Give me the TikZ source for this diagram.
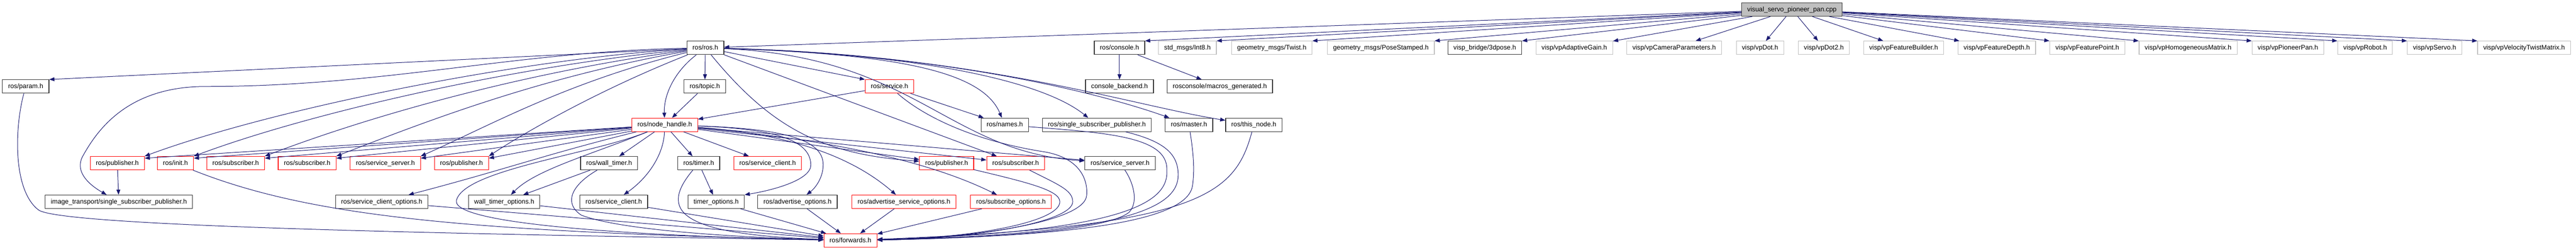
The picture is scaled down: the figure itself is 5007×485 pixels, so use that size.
\documentclass[tikz,border=0pt]{standalone}
\usepackage{fontspec}
\setmainfont{Liberation Sans}
\usepackage{tikz}
\usetikzlibrary{arrows.meta, positioning, calc}
\definecolor{edgecol}{HTML}{191970}
\definecolor{boxgray}{HTML}{BFBFBF}
\newcommand{\hfnt}{\fontsize{12.8pt}{15pt}\selectfont}
\tikzset{block/.style={draw=black!80, line width=1.2pt, fill=white, inner xsep=11pt, inner ysep=0pt, minimum height=26pt, text height=9.7pt, text depth=2.3pt, font=\hfnt},
redblock/.style={block, draw=red},
grayblock/.style={block, draw=boxgray},
rootblock/.style={block, fill=boxgray},
line/.style={-{Triangle[length=10pt,width=7.5pt]}, draw=edgecol, line width=1pt}
}

\begin{document}
\begin{tikzpicture}[x=1pt,y=1pt]
\useasboundingbox (0,0) rectangle (5007,-485);
\node[rootblock] (vspp) at (3483,-18.5) {visual\_servo\_pioneer\_pan.cpp};
% first row
\node[block] (rosh) at (1371,-93) {ros/ros.h};
\node[block] (console) at (2176,-93) {ros/console.h};
\node[grayblock] (int8) at (2308,-93) {std\_msgs/Int8.h};
\node[grayblock] (twist) at (2472,-93) {geometry\_msgs/Twist.h};
\node[grayblock] (pose) at (2684,-93) {geometry\_msgs/PoseStamped.h};
\node[block] (pose3d) at (2886,-93) {visp\_bridge/3dpose.h};
\node[grayblock] (gain) at (3060,-93) {visp/vpAdaptiveGain.h};
\node[grayblock] (campar) at (3254,-93) {visp/vpCameraParameters.h};
\node[grayblock] (dot) at (3421,-93) {visp/vpDot.h};
\node[grayblock] (dottwo) at (3545,-93) {visp/vpDot2.h};
\node[grayblock] (fbuild) at (3700,-93) {visp/vpFeatureBuilder.h};
\node[grayblock] (fdepth) at (3881,-93) {visp/vpFeatureDepth.h};
\node[grayblock] (fpoint) at (4057,-93) {visp/vpFeaturePoint.h};
\node[grayblock] (homog) at (4253,-93) {visp/vpHomogeneousMatrix.h};
\node[grayblock] (pioneer) at (4447,-93) {visp/vpPioneerPan.h};
\node[grayblock] (robot) at (4597,-93) {visp/vpRobot.h};
\node[grayblock] (servo) at (4732,-93) {visp/vpServo.h};
\node[grayblock] (vtwist) at (4906,-93) {visp/vpVelocityTwistMatrix.h};
% second row
\node[block] (param) at (50,-168) {ros/param.h};
\node[block] (topic) at (1370,-168) {ros/topic.h};
\node[redblock] (service) at (1729,-168) {ros/service.h};
\node[block] (backend) at (2176,-168) {console\_backend.h};
\node[block] (macros) at (2371,-168) {rosconsole/macros\_generated.h};
% third row
\node[redblock] (nh) at (1292,-242.5) {ros/node\_handle.h};
\node[block] (names) at (1953,-242.5) {ros/names.h};
\node[block] (rssp) at (2132,-242.5) {ros/single\_subscriber\_publisher.h};
\node[block] (master) at (2311,-242.5) {ros/master.h};
\node[block] (thisnode) at (2437,-242.5) {ros/this\_node.h};
% fourth row
\node[redblock] (puba) at (228,-317) {ros/publisher.h};
\node[redblock] (init) at (341,-317) {ros/init.h};
\node[redblock] (suba) at (458,-317) {ros/subscriber.h};
\node[redblock] (subb) at (597,-317) {ros/subscriber.h};
\node[redblock] (srva) at (749,-317) {ros/service\_server.h};
\node[redblock] (pubb) at (897,-317) {ros/publisher.h};
\node[block] (wtimer) at (1184,-317) {ros/wall\_timer.h};
\node[block] (timer) at (1358,-317) {ros/timer.h};
\node[redblock] (sclient) at (1492,-317) {ros/service\_client.h};
\node[redblock] (pubc) at (1840,-317) {ros/publisher.h};
\node[redblock] (subc) at (1974,-317) {ros/subscriber.h};
\node[block] (srvb) at (2177,-317) {ros/service\_server.h};
% fifth row
\node[block] (itssp) at (231,-392) {image\_transport/single\_subscriber\_publisher.h};
\node[block] (scopts) at (742,-392) {ros/service\_client\_options.h};
\node[block] (wtopts) at (980,-392) {wall\_timer\_options.h};
\node[block] (sclientb) at (1193,-392) {ros/service\_client.h};
\node[block] (topts) at (1392,-392) {timer\_options.h};
\node[block] (advopts) at (1550,-392) {ros/advertise\_options.h};
\node[redblock] (asopts) at (1757,-392) {ros/advertise\_service\_options.h};
\node[redblock] (subopts) at (1965,-392) {ros/subscribe\_options.h};
\node[redblock] (fwd) at (1653,-467) {ros/forwards.h};
% includes of the source file
\draw[line] (vspp) -- (rosh);
\draw[line] (vspp) -- (console.north east);
\draw[line] (vspp) -- (int8.north east);
\draw[line] (vspp) -- (twist.north east);
\draw[line] (vspp) -- (pose.north east);
\draw[line] (vspp) -- (pose3d.north east);
\draw[line] (vspp) -- (gain);
\draw[line] (vspp) -- (campar);
\draw[line] (vspp) -- (dot);
\draw[line] (vspp) -- (dottwo);
\draw[line] (vspp) -- (fbuild);
\draw[line] (vspp) -- (fdepth);
\draw[line] (vspp) -- (fpoint.north west);
\draw[line] (vspp) -- (homog.north west);
\draw[line] (vspp) -- (pioneer.north west);
\draw[line] (vspp) -- (robot.north west);
\draw[line] (vspp) -- (servo.north west);
\draw[line] (vspp) -- (vtwist.north west);
% ros.h
\draw[line] (rosh) -- (param.north east);
\draw[line] (rosh) .. controls (1000,-100) and (750,-168) .. (400,-168) .. controls (250,-168) and (190,-250) .. (160,-305) .. controls (145,-335) and (175,-360) .. (itssp);
\draw[line] (rosh) .. controls (1000,-115) and (520,-215) .. (puba.north east);
\draw[line] (rosh) .. controls (1000,-128) and (600,-220) .. (init.north east);
\draw[line] (rosh) .. controls (1020,-140) and (720,-225) .. (suba.north east);
\draw[line] (rosh) .. controls (1050,-150) and (830,-235) .. (subb.north east);
\draw[line] (rosh) .. controls (1100,-160) and (950,-245) .. (srva.north east);
\draw[line] (rosh) .. controls (1150,-180) and (1000,-270) .. (pubb.north east);
\draw[line] (rosh) -- (topic);
\draw[line] (rosh) .. controls (1310,-140) and (1290,-185) .. (nh);
\draw[line] (topic) -- (nh);
\draw[line] (rosh) -- (service.north west);
\draw[line] (rosh) .. controls (1750,-105) and (1910,-140) .. (names);
\draw[line] (rosh) .. controls (1800,-105) and (2030,-160) .. (rssp);
\draw[line] (rosh) .. controls (1850,-105) and (2150,-185) .. (master);
\draw[line] (rosh) .. controls (1900,-105) and (2200,-205) .. (thisnode);
\draw[line] (rosh) .. controls (1780,-110) and (1840,-295) .. (srvb);
\draw[line] (rosh) -- (subc);
\draw[line] (rosh) .. controls (1500,-250) and (1600,-300) .. (pubc);
\draw[line] (service) -- (nh);
\draw[line] (service) -- (names);
\draw[line] (service) .. controls (1800,-230) and (1900,-275) .. (2030,-295) .. controls (2100,-307) and (2115,-350) .. (2112,-380) .. controls (2108,-430) and (1900,-462) .. (fwd);
\draw[line] (console) -- (backend);
\draw[line] (console) -- (macros);
% node_handle.h
\draw[line] (nh) -- ([yshift=-4pt]puba.north east);
\draw[line] (nh) -- ([yshift=-4pt]init.north east);
\draw[line] (nh) -- ([yshift=-4pt]suba.north east);
\draw[line] (nh) -- ([yshift=-4pt]subb.north east);
\draw[line] (nh) -- ([yshift=-4pt]srva.north east);
\draw[line] (nh) -- ([yshift=-4pt]pubb.north east);
\draw[line] (nh) .. controls (1060,-300) and (980,-330) .. (scopts);
\draw[line] (nh) .. controls (1150,-300) and (1040,-330) .. (wtopts);
\draw[line] (nh) -- (wtimer);
\draw[line] (nh) .. controls (1290,-300) and (1260,-345) .. (sclientb);
\draw[line] (nh) -- (timer);
\draw[line] (nh) -- (sclient);
\draw[line] (nh) -- (pubc);
\draw[line] (nh) -- (subc);
\draw[line] (nh) -- (srvb);
\draw[line] (nh) .. controls (1500,-250) and (1575,-270) .. (1576,-320) .. controls (1577,-350) and (1500,-370) .. (topts.north east);
\draw[line] (nh) .. controls (1520,-250) and (1600,-270) .. (1600,-320) .. controls (1600,-345) and (1585,-365) .. (advopts);
\draw[line] (nh) .. controls (1500,-258) and (1640,-290) .. (asopts);
\draw[line] (nh) .. controls (1600,-270) and (1800,-310) .. (subopts);
\draw[line] (nh) .. controls (1150,-300) and (900,-330) .. (887,-390) .. controls (880,-440) and (1300,-460) .. (fwd);
% down to forwards.h
\draw[line] (wtimer) -- (wtopts);
\draw[line] (timer) -- (topts);
\draw[line] (puba) -- (itssp);
\draw[line] (wtimer) .. controls (1110,-360) and (1095,-395) .. (1130,-418) .. controls (1200,-445) and (1400,-460) .. (fwd);
\draw[line] (timer) .. controls (1280,-410) and (1320,-455) .. (fwd);
\draw[line] (scopts) -- (fwd);
\draw[line] (wtopts) -- (fwd);
\draw[line] (sclientb) -- (fwd);
\draw[line] (topts) -- (fwd);
\draw[line] (advopts) -- (fwd);
\draw[line] (asopts) -- (fwd);
\draw[line] (subopts) -- (fwd);
\draw[line] (init) .. controls (600,-420) and (900,-450) .. (fwd);
\draw[line] (param) .. controls (28,-250) and (25,-370) .. (75,-408) .. controls (120,-440) and (900,-455) .. (fwd);
\draw[line] (pubc) .. controls (2000,-355) and (2060,-370) .. (2060,-392) .. controls (2060,-430) and (1900,-462) .. (fwd);
\draw[line] (subc) .. controls (2060,-360) and (2085,-370) .. (2085,-392) .. controls (2085,-430) and (1900,-464) .. (fwd);
\draw[line] (srvb) .. controls (2200,-350) and (2215,-390) .. (2195,-412) .. controls (2150,-450) and (1900,-463) .. (fwd);
\draw[line] (names) .. controls (2150,-258) and (2270,-265) .. (2268,-330) .. controls (2272,-390) and (2200,-450) .. (fwd);
\draw[line] (rssp) .. controls (2265,-275) and (2290,-300) .. (2290,-340) .. controls (2290,-400) and (2200,-455) .. (fwd);
\draw[line] (master) .. controls (2320,-300) and (2322,-330) .. (2318,-360) .. controls (2310,-420) and (2150,-458) .. (fwd);
\draw[line] (thisnode) .. controls (2400,-380) and (2330,-440) .. (fwd);
\end{tikzpicture}
\end{document}
